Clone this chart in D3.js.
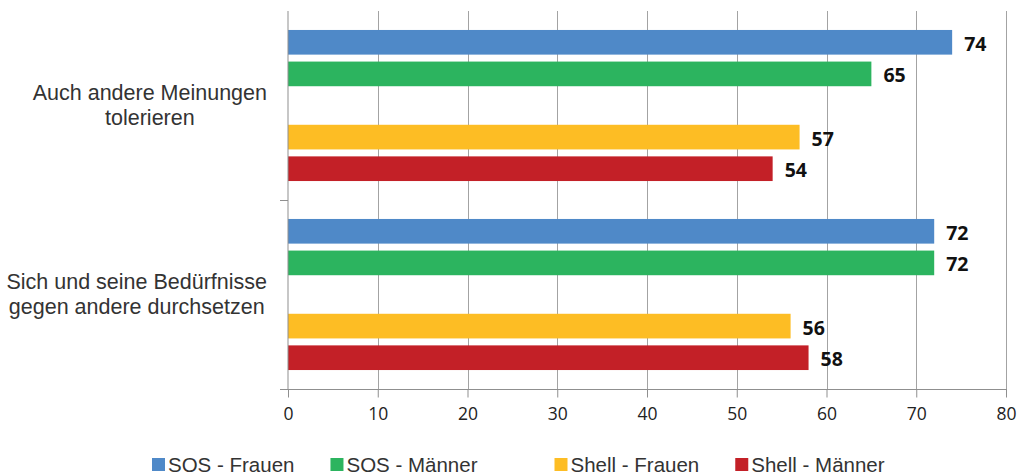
<!DOCTYPE html>
<html>
<head>
<meta charset="utf-8">
<script src="https://cdn.jsdelivr.net/npm/d3@7"></script>
<style>
  html, body { margin: 0; padding: 0; background: #fff; }
  svg { display: block; }
</style>
</head>
<body>
<svg id="chart" width="1018" height="476"></svg>
<script>
// Categories (top to bottom) and series in drawing order; the blank series
// leaves an empty slot between the SOS and the Shell bars.
const categories = [
  ["Auch andere Meinungen", "tolerieren"],
  ["Sich und seine Bedürfnisse", "gegen andere durchsetzen"]
];
const seriesNames = ["SOS - Frauen", "SOS - Männer", "", "Shell - Frauen", "Shell - Männer"];
const seriesColors = ["#4f89c8", "#2cb45f", "none", "#fdbd24", "#c32027"];

const sosFrauen = [74, 72];
const sosMaenner = [65, 72];
const blank = [null, null];
const shellFrauen = [57, 56];
const shellMaenner = [54, 58];

const seriesValues = [sosFrauen, sosMaenner, blank, shellFrauen, shellMaenner];
const xTicks = [0, 10, 20, 30, 40, 50, 60, 70, 80];

const svg = d3.select("#chart");
const plot = { left: 288, right: 1006, top: 11, bottom: 389 };

const x = d3.scaleLinear().domain([0, 80]).range([plot.left, plot.right]);
const catKeys = categories.map((c, i) => i);
const y0 = d3.scaleBand().domain(catKeys).range([plot.top, plot.bottom]).padding(0);
const y1 = d3.scaleBand().domain(d3.range(seriesNames.length))
  .range([0, y0.bandwidth()]).paddingInner(0.22).paddingOuter(0.6);

const gridColor = "#a3a3a3";
const axisColor = "#8f8f8f";

// vertical gridlines
svg.append("g").selectAll("line").data(xTicks.filter(t => t > 0)).join("line")
  .attr("x1", d => Math.round(x(d)) + 0.5).attr("x2", d => Math.round(x(d)) + 0.5)
  .attr("y1", plot.top).attr("y2", plot.bottom)
  .attr("stroke", gridColor).attr("stroke-width", 1);

// bars
const bars = [];
seriesValues.forEach((vals, s) => {
  vals.forEach((v, c) => {
    if (v != null) bars.push({ s, c, v });
  });
});

svg.append("g").selectAll("rect").data(bars).join("rect")
  .attr("x", x(0))
  .attr("y", d => y0(d.c) + y1(d.s))
  .attr("width", d => x(d.v) - x(0))
  .attr("height", y1.bandwidth())
  .attr("fill", d => seriesColors[d.s]);

// value labels
svg.append("g").selectAll("text").data(bars).join("text")
  .attr("x", d => x(d.v) + 12)
  .attr("y", d => y0(d.c) + y1(d.s) + y1.bandwidth() / 2 + 8.5)
  .attr("font-family", "'Open Sans', sans-serif")
  .attr("font-weight", 700)
  .attr("font-size", "19.5px")
  .attr("fill", "#111")
  .text(d => d.v);

// y axis line and category separators
const axes = svg.append("g").attr("stroke", axisColor).attr("stroke-width", 1);
axes.append("line")
  .attr("x1", x(0)).attr("x2", x(0))
  .attr("y1", plot.top).attr("y2", plot.bottom);
catKeys.forEach(c => {
  const yy = Math.round(y0(c) + y0.bandwidth()) + 0.5;
  axes.append("line").attr("x1", x(0) - 8).attr("x2", x(0)).attr("y1", yy).attr("y2", yy);
});

// x axis
const xAxis = d3.axisBottom(x).tickValues(xTicks).tickSize(8).tickPadding(10)
  .tickFormat(d3.format("d"));
const gx = svg.append("g").attr("transform", `translate(0,${plot.bottom + 0.5})`).call(xAxis);
gx.select(".domain").attr("stroke", axisColor).attr("d", `M${x(0)},0H${plot.right + 1}`);
gx.selectAll(".tick line").attr("stroke", axisColor);
gx.selectAll(".tick text")
  .attr("font-family", "'Open Sans', sans-serif")
  .attr("font-size", "17.5px")
  .attr("fill", "#222");

// category labels: lines centred inside a block right-aligned at the axis
const catG = svg.append("g")
  .attr("font-family", "'Liberation Sans', Arial, sans-serif")
  .attr("font-size", "21.5px")
  .attr("fill", "#333");
categories.forEach((lines, c) => {
  const g = catG.append("g");
  const texts = lines.map(l => g.append("text").attr("text-anchor", "middle").text(l));
  const widths = texts.map(t => t.node().getComputedTextLength());
  const blockW = d3.max(widths);
  const cx = 267 - blockW / 2;
  const mid = y0(c) + y0.bandwidth() / 2 + 7;
  const lh = 25.5;
  texts.forEach((t, i) => {
    t.attr("x", cx).attr("y", mid + (i - (lines.length - 1) / 2) * lh);
  });
});

// legend
const leg = svg.append("g")
  .attr("font-family", "'Liberation Sans', Arial, sans-serif")
  .attr("font-size", "20.5px")
  .attr("fill", "#333");
let cursor = 152;
seriesNames.forEach((name, s) => {
  if (!name) { cursor += 41; return; }
  leg.append("rect").attr("x", cursor).attr("y", 458).attr("width", 13).attr("height", 13)
    .attr("fill", seriesColors[s]);
  const t = leg.append("text").attr("x", cursor + 16).attr("y", 471.5).text(name);
  cursor += 16 + t.node().getComputedTextLength() + 36;
});
</script>
</body>
</html>
